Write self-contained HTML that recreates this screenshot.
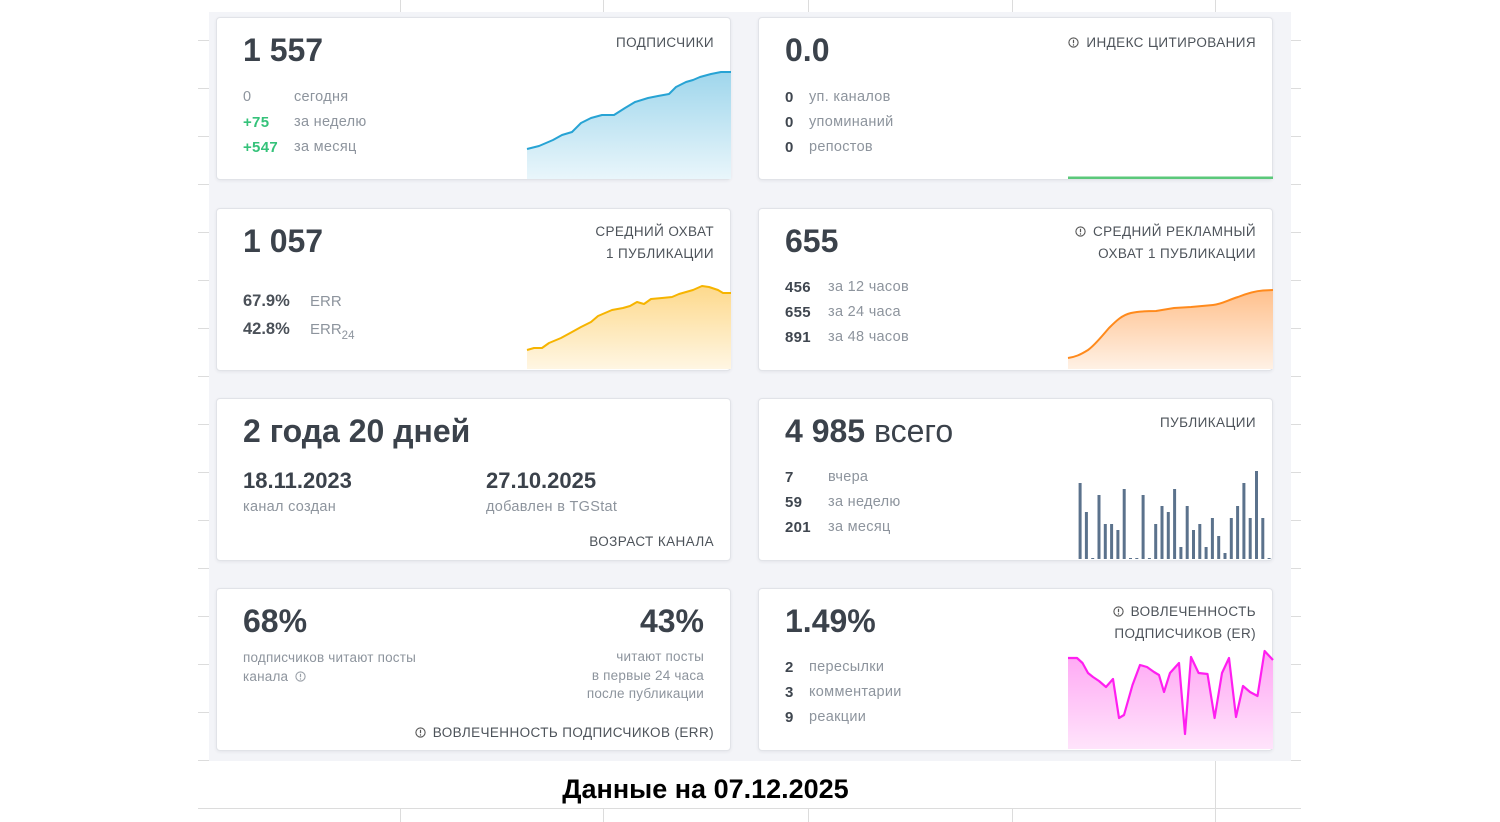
<!DOCTYPE html>
<html><head><meta charset="utf-8">
<style>
html,body{margin:0;padding:0;}
body{width:1500px;height:822px;position:relative;overflow:hidden;background:#fff;font-family:"Liberation Sans","DejaVu Sans",sans-serif;}
.a{position:absolute;white-space:nowrap;line-height:1;}
.gl{position:absolute;background:#dcdcdc;}
.panel{position:absolute;left:209px;top:12px;width:1082px;height:749px;background:#f3f4f8;}
.card{position:absolute;width:515px;height:163px;background:#fff;border:1px solid #e1e3e8;border-radius:4px;box-shadow:0 1px 3px rgba(30,40,60,0.07);box-sizing:border-box;}
.big{font-size:32px;font-weight:bold;color:#3b424b;}
.hd{font-size:13.5px;letter-spacing:0.4px;color:#4d535a;text-align:right;}
.hd2{font-size:13.5px;letter-spacing:0.4px;color:#4d535a;text-align:right;line-height:22px;white-space:nowrap;position:absolute;}
.lb{font-size:14.5px;letter-spacing:0.3px;color:#8d949d;}
.nm{font-size:15px;letter-spacing:0.3px;font-weight:bold;color:#3f464f;}
.gr{font-size:15px;letter-spacing:0.3px;font-weight:bold;color:#35c27a;}
.ic{display:inline-block;vertical-align:-1px;margin-right:7px;}
</style></head><body>

<!-- spreadsheet grid -->
<div class="gl" style="left:400px;top:0;width:1px;height:12px"></div>
<div class="gl" style="left:603px;top:0;width:1px;height:12px"></div>
<div class="gl" style="left:808px;top:0;width:1px;height:12px"></div>
<div class="gl" style="left:1012px;top:0;width:1px;height:12px"></div>
<div class="gl" style="left:1215px;top:0;width:1px;height:12px"></div>

<div class="gl" style="left:198px;top:40px;width:11px;height:1px"></div>
<div class="gl" style="left:198px;top:88px;width:11px;height:1px"></div>
<div class="gl" style="left:198px;top:136px;width:11px;height:1px"></div>
<div class="gl" style="left:198px;top:184px;width:11px;height:1px"></div>
<div class="gl" style="left:198px;top:232px;width:11px;height:1px"></div>
<div class="gl" style="left:198px;top:280px;width:11px;height:1px"></div>
<div class="gl" style="left:198px;top:328px;width:11px;height:1px"></div>
<div class="gl" style="left:198px;top:376px;width:11px;height:1px"></div>
<div class="gl" style="left:198px;top:424px;width:11px;height:1px"></div>
<div class="gl" style="left:198px;top:472px;width:11px;height:1px"></div>
<div class="gl" style="left:198px;top:520px;width:11px;height:1px"></div>
<div class="gl" style="left:198px;top:568px;width:11px;height:1px"></div>
<div class="gl" style="left:198px;top:616px;width:11px;height:1px"></div>
<div class="gl" style="left:198px;top:664px;width:11px;height:1px"></div>
<div class="gl" style="left:198px;top:712px;width:11px;height:1px"></div>
<div class="gl" style="left:198px;top:760px;width:11px;height:1px"></div>

<div class="gl" style="left:1291px;top:40px;width:10px;height:1px"></div>
<div class="gl" style="left:1291px;top:88px;width:10px;height:1px"></div>
<div class="gl" style="left:1291px;top:136px;width:10px;height:1px"></div>
<div class="gl" style="left:1291px;top:184px;width:10px;height:1px"></div>
<div class="gl" style="left:1291px;top:232px;width:10px;height:1px"></div>
<div class="gl" style="left:1291px;top:280px;width:10px;height:1px"></div>
<div class="gl" style="left:1291px;top:328px;width:10px;height:1px"></div>
<div class="gl" style="left:1291px;top:376px;width:10px;height:1px"></div>
<div class="gl" style="left:1291px;top:424px;width:10px;height:1px"></div>
<div class="gl" style="left:1291px;top:472px;width:10px;height:1px"></div>
<div class="gl" style="left:1291px;top:520px;width:10px;height:1px"></div>
<div class="gl" style="left:1291px;top:568px;width:10px;height:1px"></div>
<div class="gl" style="left:1291px;top:616px;width:10px;height:1px"></div>
<div class="gl" style="left:1291px;top:664px;width:10px;height:1px"></div>
<div class="gl" style="left:1291px;top:712px;width:10px;height:1px"></div>
<div class="gl" style="left:1291px;top:760px;width:10px;height:1px"></div>

<div class="gl" style="left:198px;top:808px;width:1103px;height:1px"></div>
<div class="gl" style="left:400px;top:808px;width:1px;height:14px"></div>
<div class="gl" style="left:603px;top:808px;width:1px;height:14px"></div>
<div class="gl" style="left:808px;top:808px;width:1px;height:14px"></div>
<div class="gl" style="left:1012px;top:808px;width:1px;height:14px"></div>
<div class="gl" style="left:1215px;top:761px;width:1px;height:61px"></div>

<div class="panel"></div>

<div class="card" style="left:216px;top:17px;"></div>
<div class="card" style="left:758px;top:17px;"></div>
<div class="card" style="left:216px;top:208px;"></div>
<div class="card" style="left:758px;top:208px;"></div>
<div class="card" style="left:216px;top:398px;"></div>
<div class="card" style="left:758px;top:398px;"></div>
<div class="card" style="left:216px;top:588px;"></div>
<div class="card" style="left:758px;top:588px;"></div>

<!-- charts -->
<svg style="position:absolute;left:0;top:0" width="1500" height="822" viewBox="0 0 1500 822">
<defs>
<linearGradient id="gb" x1="0" y1="0" x2="0" y2="1"><stop offset="0" stop-color="#9fd6ec"/><stop offset="1" stop-color="#e9f6fb"/></linearGradient>
<linearGradient id="gy" x1="0" y1="0" x2="0" y2="1"><stop offset="0" stop-color="#fdd98c"/><stop offset="1" stop-color="#fff6e3"/></linearGradient>
<linearGradient id="go" x1="0" y1="0" x2="0" y2="1"><stop offset="0" stop-color="#ffc08c"/><stop offset="1" stop-color="#fff1e5"/></linearGradient>
<linearGradient id="gm" x1="0" y1="0" x2="0" y2="1"><stop offset="0" stop-color="#ffa6f4"/><stop offset="1" stop-color="#ffe4fb"/></linearGradient>
</defs>
<path d="M527,149 L539,146 553,140 562,135 572,132 581,123 591,118 602,115 614,115 625,108 635,102 648,98 658,96 669,94 676,87 686,82 693,80 700,77 711,74 721,72 731,72 L731,179 L527,179 Z" fill="url(#gb)"/>
<path d="M527,149 L539,146 553,140 562,135 572,132 581,123 591,118 602,115 614,115 625,108 635,102 648,98 658,96 669,94 676,87 686,82 693,80 700,77 711,74 721,72 731,72" fill="none" stroke="#27a3d4" stroke-width="2" stroke-linejoin="round"/>

<rect x="1068" y="176.5" width="205" height="2.5" fill="#5bc87a"/>

<path d="M527,350 L534,348 542,348 549,343 561,338 572,332 581,327 591,322 598,316 612,310 623,308 630,306 637,302 644,304 651,299 662,298 672,297 679,294 693,290 702,286 709,287 718,290 723,293 731,293 L731,369 L527,369 Z" fill="url(#gy)"/>
<path d="M527,350 L534,348 542,348 549,343 561,338 572,332 581,327 591,322 598,316 612,310 623,308 630,306 637,302 644,304 651,299 662,298 672,297 679,294 693,290 702,286 709,287 718,290 723,293 731,293" fill="none" stroke="#f6b400" stroke-width="2" stroke-linejoin="round"/>

<path d="M1068,358 C1075,357 1080,355 1088,350 C1095,345 1102,336 1109,328 C1116,321 1122,315 1131,313 C1140,311 1150,311 1156,311 L1174,308 1191,307 1213,305 C1222,304 1228,300 1238,297 C1248,293 1256,291 1263,290.5 L1273,290 L1273,369 L1068,369 Z" fill="url(#go)"/>
<path d="M1068,358 C1075,357 1080,355 1088,350 C1095,345 1102,336 1109,328 C1116,321 1122,315 1131,313 C1140,311 1150,311 1156,311 L1174,308 1191,307 1213,305 C1222,304 1228,300 1238,297 C1248,293 1256,291 1263,290.5 L1273,290" fill="none" stroke="#ff8a1c" stroke-width="2"/>

<g fill="#5b728c">
<rect x="1078.6" y="483" width="3" height="76"/>
<rect x="1084.9" y="512" width="3" height="47"/>
<rect x="1091.2" y="558" width="3" height="1"/>
<rect x="1097.5" y="495" width="3" height="64"/>
<rect x="1103.8" y="524" width="3" height="35"/>
<rect x="1110.1" y="524" width="3" height="35"/>
<rect x="1116.4" y="530" width="3" height="29"/>
<rect x="1122.7" y="489" width="3" height="70"/>
<rect x="1129.0" y="558" width="3" height="1"/>
<rect x="1135.3" y="558" width="3" height="1"/>
<rect x="1141.6" y="495" width="3" height="64"/>
<rect x="1147.9" y="558" width="3" height="1"/>
<rect x="1154.2" y="524" width="3" height="35"/>
<rect x="1160.5" y="506" width="3" height="53"/>
<rect x="1166.8" y="512" width="3" height="47"/>
<rect x="1173.1" y="489" width="3" height="70"/>
<rect x="1179.4" y="547" width="3" height="12"/>
<rect x="1185.7" y="506" width="3" height="53"/>
<rect x="1192.0" y="530" width="3" height="29"/>
<rect x="1198.3" y="524" width="3" height="35"/>
<rect x="1204.6" y="547" width="3" height="12"/>
<rect x="1210.9" y="518" width="3" height="41"/>
<rect x="1217.2" y="536" width="3" height="23"/>
<rect x="1223.5" y="553" width="3" height="6"/>
<rect x="1229.8" y="518" width="3" height="41"/>
<rect x="1236.1" y="506" width="3" height="53"/>
<rect x="1242.4" y="483" width="3" height="76"/>
<rect x="1248.7" y="518" width="3" height="41"/>
<rect x="1255.0" y="471" width="3" height="88"/>
<rect x="1261.3" y="518" width="3" height="41"/>
<rect x="1267.6" y="558" width="3" height="1"/>
</g>

<path d="M1068,658 L1077,658 1082.5,663 1088,673 1093,677 1099,681 1106,687 1113,679 1119,718 1124,715 1132.5,685 1140,665 1147,667 1154,672 1159,675 1164,692 1170,673 1179,663 1185,734 1191,657 1198.6,673 1207.5,674 1214.6,718 1222,673 1229,658 1236,717 1243,686 1250,692 1257.5,696 1264.6,651 1273,660 L1273,749 L1068,749 Z" fill="url(#gm)"/>
<path d="M1068,658 L1077,658 1082.5,663 1088,673 1093,677 1099,681 1106,687 1113,679 1119,718 1124,715 1132.5,685 1140,665 1147,667 1154,672 1159,675 1164,692 1170,673 1179,663 1185,734 1191,657 1198.6,673 1207.5,674 1214.6,718 1222,673 1229,658 1236,717 1243,686 1250,692 1257.5,696 1264.6,651 1273,660" fill="none" stroke="#ff1ff0" stroke-width="2.2" stroke-linejoin="round"/>
</svg>

<!-- Card 1 -->
<div class="a big" style="left:243px;top:34px;">1 557</div>
<div class="a hd" style="right:786px;top:36px;">ПОДПИСЧИКИ</div>
<div class="a lb" style="left:243px;top:90px;">0</div><div class="a lb" style="left:294px;top:90px;">сегодня</div>
<div class="a gr" style="left:243px;top:115px;">+75</div><div class="a lb" style="left:294px;top:115px;">за неделю</div>
<div class="a gr" style="left:243px;top:140px;">+547</div><div class="a lb" style="left:294px;top:140px;">за месяц</div>

<!-- Card 2 -->
<div class="a big" style="left:785px;top:34px;">0.0</div>
<div class="a hd" style="right:244px;top:36px;"><svg class="ic" width="11" height="11" viewBox="0 0 11 11"><circle cx="5.5" cy="5.5" r="4.6" fill="none" stroke="#555" stroke-width="1.1"/><path d="M5.5 2.8v3.4" stroke="#555" stroke-width="1.2"/><circle cx="5.5" cy="8" r=".7" fill="#555"/></svg>ИНДЕКС ЦИТИРОВАНИЯ</div>
<div class="a nm" style="left:785px;top:90px;">0</div><div class="a lb" style="left:809px;top:90px;">уп. каналов</div>
<div class="a nm" style="left:785px;top:115px;">0</div><div class="a lb" style="left:809px;top:115px;">упоминаний</div>
<div class="a nm" style="left:785px;top:140px;">0</div><div class="a lb" style="left:809px;top:140px;">репостов</div>

<!-- Card 3 -->
<div class="a big" style="left:243px;top:225px;">1 057</div>
<div class="hd2" style="right:786px;top:221px;">СРЕДНИЙ ОХВАТ<br>1 ПУБЛИКАЦИИ</div>
<div class="a" style="left:243px;top:293px;font-size:16.5px;font-weight:bold;color:#4a5058;">67.9%</div>
<div class="a" style="left:310px;top:294px;font-size:15px;color:#8d949d;">ERR</div>
<div class="a" style="left:243px;top:321px;font-size:16.5px;font-weight:bold;color:#4a5058;">42.8%</div>
<div class="a" style="left:310px;top:322px;font-size:15px;color:#8d949d;">ERR<span style="font-size:11.5px;position:relative;top:5px;">24</span></div>

<!-- Card 4 -->
<div class="a big" style="left:785px;top:225px;">655</div>
<div class="hd2" style="right:244px;top:221px;"><svg class="ic" width="11" height="11" viewBox="0 0 11 11"><circle cx="5.5" cy="5.5" r="4.6" fill="none" stroke="#555" stroke-width="1.1"/><path d="M5.5 2.8v3.4" stroke="#555" stroke-width="1.2"/><circle cx="5.5" cy="8" r=".7" fill="#555"/></svg>СРЕДНИЙ РЕКЛАМНЫЙ<br>ОХВАТ 1 ПУБЛИКАЦИИ</div>
<div class="a nm" style="left:785px;top:280px;">456</div><div class="a lb" style="left:828px;top:280px;">за 12 часов</div>
<div class="a nm" style="left:785px;top:305px;">655</div><div class="a lb" style="left:828px;top:305px;">за 24 часа</div>
<div class="a nm" style="left:785px;top:330px;">891</div><div class="a lb" style="left:828px;top:330px;">за 48 часов</div>

<!-- Card 5 -->
<div class="a big" style="left:243px;top:415px;">2 года 20 дней</div>
<div class="a" style="left:243px;top:470px;font-size:22px;font-weight:bold;color:#3b424b;">18.11.2023</div>
<div class="a" style="left:243px;top:500px;font-size:14.5px;letter-spacing:0.3px;color:#8d949d;">канал создан</div>
<div class="a" style="left:486px;top:470px;font-size:22px;font-weight:bold;color:#3b424b;">27.10.2025</div>
<div class="a" style="left:486px;top:500px;font-size:14.5px;letter-spacing:0.3px;color:#8d949d;">добавлен в TGStat</div>
<div class="a hd" style="right:786px;top:535px;">ВОЗРАСТ КАНАЛА</div>

<!-- Card 6 -->
<div class="a big" style="left:785px;top:415px;">4 985 <span style="font-weight:normal;">всего</span></div>
<div class="a hd" style="right:244px;top:416px;">ПУБЛИКАЦИИ</div>
<div class="a nm" style="left:785px;top:470px;">7</div><div class="a lb" style="left:828px;top:470px;">вчера</div>
<div class="a nm" style="left:785px;top:495px;">59</div><div class="a lb" style="left:828px;top:495px;">за неделю</div>
<div class="a nm" style="left:785px;top:520px;">201</div><div class="a lb" style="left:828px;top:520px;">за месяц</div>

<!-- Card 7 -->
<div class="a big" style="left:243px;top:605px;">68%</div>
<div class="a big" style="right:796px;top:605px;">43%</div>
<div class="a" style="left:243px;top:649px;font-size:13.5px;letter-spacing:0.2px;color:#8d949d;line-height:18.5px;white-space:nowrap;">подписчиков читают посты<br>канала <svg style="display:inline-block;vertical-align:-1px;margin-left:3px" width="11" height="11" viewBox="0 0 11 11"><circle cx="5.5" cy="5.5" r="4.6" fill="none" stroke="#9aa0a8" stroke-width="1.1"/><path d="M5.5 2.8v3.4" stroke="#9aa0a8" stroke-width="1.2"/><circle cx="5.5" cy="8" r=".7" fill="#9aa0a8"/></svg></div>
<div class="a" style="right:796px;top:648px;font-size:13.5px;letter-spacing:0.2px;color:#8d949d;line-height:18.5px;text-align:right;">читают посты<br>в первые 24 часа<br>после публикации</div>
<div class="a hd" style="right:786px;top:726px;"><svg class="ic" width="11" height="11" viewBox="0 0 11 11"><circle cx="5.5" cy="5.5" r="4.6" fill="none" stroke="#555" stroke-width="1.1"/><path d="M5.5 2.8v3.4" stroke="#555" stroke-width="1.2"/><circle cx="5.5" cy="8" r=".7" fill="#555"/></svg>ВОВЛЕЧЕННОСТЬ ПОДПИСЧИКОВ (ERR)</div>

<!-- Card 8 -->
<div class="a big" style="left:785px;top:605px;">1.49%</div>
<div class="hd2" style="right:244px;top:601px;"><svg class="ic" width="11" height="11" viewBox="0 0 11 11"><circle cx="5.5" cy="5.5" r="4.6" fill="none" stroke="#555" stroke-width="1.1"/><path d="M5.5 2.8v3.4" stroke="#555" stroke-width="1.2"/><circle cx="5.5" cy="8" r=".7" fill="#555"/></svg>ВОВЛЕЧЕННОСТЬ<br>ПОДПИСЧИКОВ (ER)</div>
<div class="a nm" style="left:785px;top:660px;">2</div><div class="a lb" style="left:809px;top:660px;">пересылки</div>
<div class="a nm" style="left:785px;top:685px;">3</div><div class="a lb" style="left:809px;top:685px;">комментарии</div>
<div class="a nm" style="left:785px;top:710px;">9</div><div class="a lb" style="left:809px;top:710px;">реакции</div>

<!-- Footer -->
<div class="a" style="left:405px;width:601px;text-align:center;top:776px;font-size:27px;font-weight:bold;color:#000;">Данные на 07.12.2025</div>

</body></html>
